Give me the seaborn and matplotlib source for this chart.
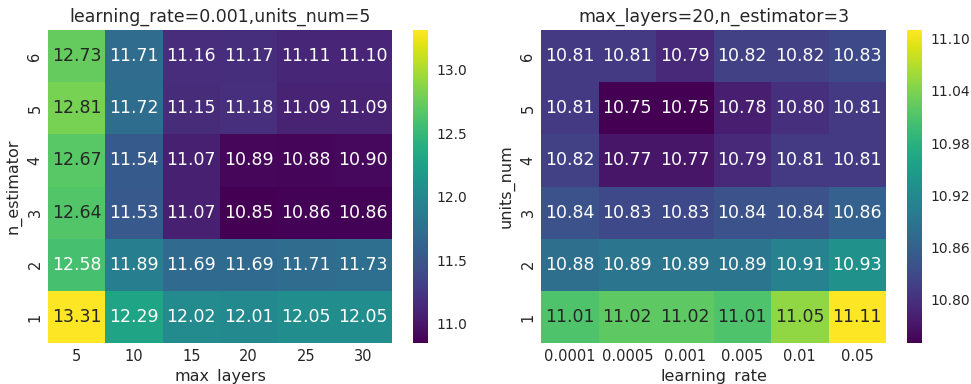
import matplotlib
matplotlib.use("Agg")
import matplotlib.pyplot as plt
import seaborn as sns
import pandas as pd

# Left heatmap data (rows: n_estimator from 6 down to 1)
max_layers = [5, 10, 15, 20, 25, 30]
n_estimator = [6, 5, 4, 3, 2, 1]
left_values = [
    [12.73, 11.71, 11.16, 11.17, 11.11, 11.10],
    [12.81, 11.72, 11.15, 11.18, 11.09, 11.09],
    [12.67, 11.54, 11.07, 10.89, 10.88, 10.90],
    [12.64, 11.53, 11.07, 10.85, 10.86, 10.86],
    [12.58, 11.89, 11.69, 11.69, 11.71, 11.73],
    [13.31, 12.29, 12.02, 12.01, 12.05, 12.05],
]
left_title = "learning_rate=0.001,units_num=5"
left_cbar_ticks = [11.0, 11.5, 12.0, 12.5, 13.0]

# Right heatmap data (rows: units_num from 6 down to 1)
learning_rate = ["0.0001", "0.0005", "0.001", "0.005", "0.01", "0.05"]
units_num = [6, 5, 4, 3, 2, 1]
right_values = [
    [10.81, 10.81, 10.79, 10.82, 10.82, 10.83],
    [10.81, 10.75, 10.75, 10.78, 10.80, 10.81],
    [10.82, 10.77, 10.77, 10.79, 10.81, 10.81],
    [10.84, 10.83, 10.83, 10.84, 10.84, 10.86],
    [10.88, 10.89, 10.89, 10.89, 10.91, 10.93],
    [11.01, 11.02, 11.02, 11.01, 11.05, 11.11],
]
right_title = "max_layers=20,n_estimator=3"
right_cbar_ticks = [10.80, 10.86, 10.92, 10.98, 11.04, 11.10]

sns.set_theme(style="darkgrid")
plt.rcParams['font.family'] = ['DejaVu Sans']

fig = plt.figure(figsize=(9.71, 3.84), dpi=100)
W, H = 971.0, 384.0

def fx(x0, x1, y0, y1):
    return [x0 / W, 1 - y1 / H, (x1 - x0) / W, (y1 - y0) / H]

ax1 = fig.add_axes(fx(48, 392, 30, 343))
cax1 = fig.add_axes(fx(413, 428, 30, 343))
ax2 = fig.add_axes(fx(541, 886, 30, 343))
cax2 = fig.add_axes(fx(907, 922, 30, 343))

df_left = pd.DataFrame(left_values, index=n_estimator, columns=max_layers)
df_right = pd.DataFrame(right_values, index=units_num, columns=learning_rate)

for ax, cax, df, ticks, fmt, title, xl, yl in [
    (ax1, cax1, df_left, left_cbar_ticks, "%.1f", left_title, "max_layers", "n_estimator"),
    (ax2, cax2, df_right, right_cbar_ticks, "%.2f", right_title, "learning_rate", "units_num"),
]:
    sns.heatmap(df, ax=ax, cbar_ax=cax, cmap="viridis", annot=True, fmt=".2f",
                annot_kws={"fontsize": 12.5},
                cbar_kws={"ticks": ticks, "format": fmt})
    ax.set_title(title, fontsize=12.5)
    ax.set_xlabel(xl, fontsize=11.5)
    ax.set_ylabel(yl, fontsize=11.5)
    plt.setp(ax.get_yticklabels(), rotation=90, va="center")
    plt.setp(ax.get_xticklabels(), rotation=0)
    ax.tick_params(labelsize=10.5, length=0, pad=4)
    cax.tick_params(labelsize=10, length=0, pad=6)
    # text colour: dark on light cells, white on dark cells
    norm = ax.collections[0].norm
    for t in ax.texts:
        v = float(t.get_text())
        t.set_color(".15" if float(norm(v)) > 0.71 else "w")

fig.savefig("out.png", dpi=100)
